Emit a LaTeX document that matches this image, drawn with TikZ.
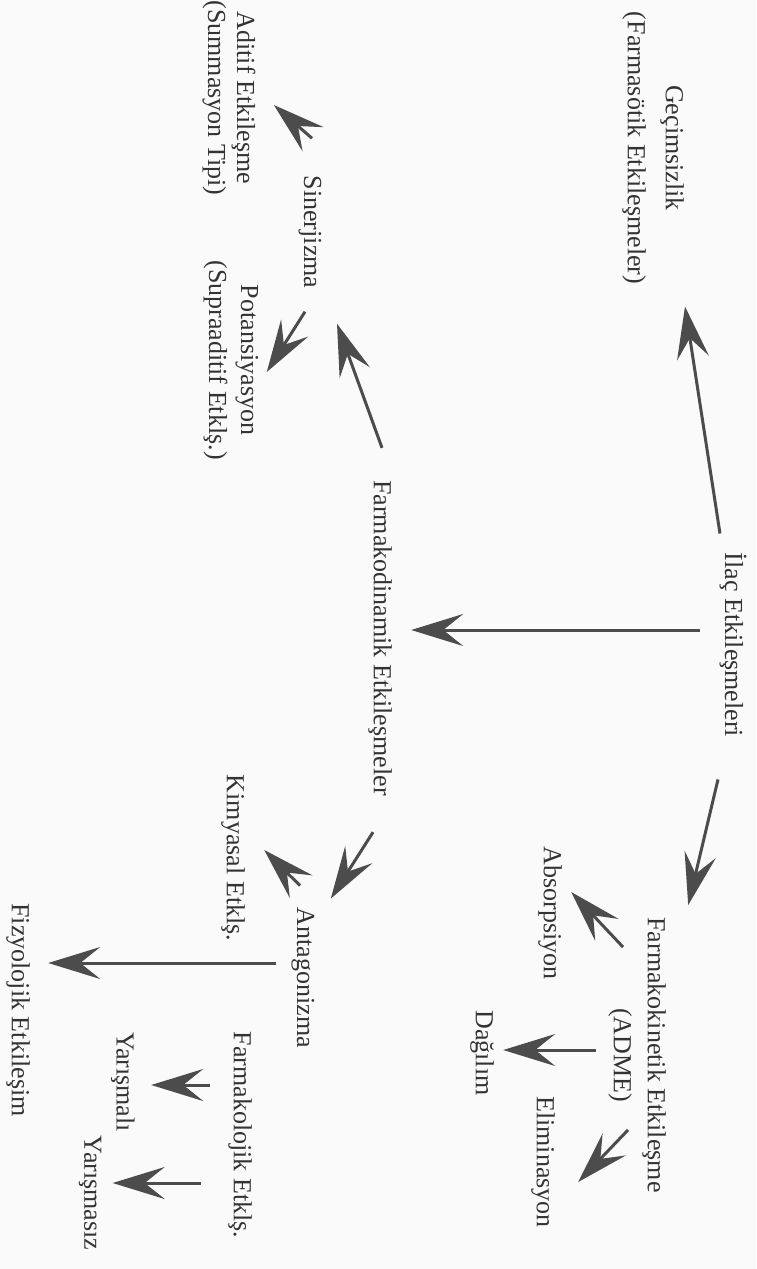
\documentclass[tikz,border=0pt]{standalone}
\usepackage{fontspec}
\setmainfont{Liberation Serif}
\usetikzlibrary{arrows.meta,calc}

\tikzset{
  term/.style={text=black!80, inner sep=1pt, align=center, font=\fontsize{13}{16}\selectfont},
  branch/.style={draw=black!70, line width=1.5pt, -{Stealth[length=26pt,width=16pt,inset=10pt]}},
}

\begin{document}
\begin{tikzpicture}[x=0.5pt,y=0.5pt]% {{{ ilac etkilesmeleri, page turned
\begin{scope}[rotate=-90, transform shape]
	\fill[black!2] (0,0) rectangle (1269,756);
	\useasboundingbox (0,0) rectangle (1269,756);

	\node[term] (ilac)    at (645,733) {İlaç Etkileşmeleri};
	\node[term] (gecim)   at (148,653) {Geçimsizlik\\[3pt](Farmasötik Etkileşmeler)};
	\node[term] (kinetik) at (1055,637) {Farmakokinetik Etkileşme\\[1pt](ADME)};
	\node[term] (absorp)  at (913,550) {Absorpsiyon};
	\node[term] (dagilim) at (1053,482) {Dağılım};
	\node[term] (elimin)  at (1162,543) {Eliminasyon};

	\node[term] (dinamik) at (638,380) {Farmakodinamik Etkileşmeler};
	\node[term] (sinerji) at (232,310) {Sinerjizma};
	\node[term] (aditif)  at (98,229) {Aditif Etkileşme\\[-1.5pt](Summasyon Tipi)};
	\node[term] (potans)  at (360,231) {Potansiyasyon\\(Supraaditif Etklş.)};
	\node[term] (antag)   at (978,303) {Antagonizma};
	\node[term] (kimya)   at (858,233) {Kimyasal Etklş.};
	\node[term] (farmakol) at (1135,240) {Farmakolojik Etklş.};
	\node[term] (yarismali)  at (1082,123) {Yarışmalı};
	\node[term] (yarismasiz) at (1193,90) {Yarışmasız};
	\node[term] (fizyo)   at (1010,18) {Fizyolojik Etkileşim};

	% root
	\draw[branch] ($(ilac.west)+(-17,-13)$) -- ($(gecim.east)+(20,32)$);
	\draw[branch] ($(ilac.south)+(-15,-17)$) -- ($(dinamik.north)+(-8,17)$);
	\draw[branch] ($(ilac.east)+(40,-15)$) -- ($(kinetik.north west)+(-10,20)$);
	% ADME
	\draw[branch] ($(kinetik.west)+(32,-14)$) -- ($(absorp.north)+(-21,7)$);
	\draw[branch] ($(kinetik.south)+(-5,-10)$) -- ($(dagilim.north)+(-3,7)$);
	\draw[branch] ($(kinetik.east)+(-65,-9)$) -- ($(elimin.north)+(20,21)$);
	% farmakodinamik
	\draw[branch] ($(dinamik.west)+(-30,2)$) -- ($(sinerji.east)+(33,27)$);
	\draw[branch] ($(sinerji.west)+(-35,2)$) -- ($(aditif.north)+(7,16)$);
	\draw[branch] ($(sinerji.east)+(21,-5)$) -- ($(potans.north)+(12,6)$);
	\draw[branch] ($(dinamik.east)+(34,-7)$) -- ($(antag.north west)+(-7,14)$);
	\draw[branch] ($(antag.west)+(-20,-3)$) -- ($(kimya.north)+(-8,17)$);
	\draw[branch] ($(antag.south)+(-15,-13)$) -- ($(fizyo.north)+(-47,16)$);
	\draw[branch] ($(farmakol.south)+(-50,-16)$) -- ($(yarismali.north)+(3,14)$);
	\draw[branch] ($(farmakol.south)+(48,-25)$) -- ($(yarismasiz.north)+(-10,9)$);
\end{scope}
\end{tikzpicture}
\end{document}
